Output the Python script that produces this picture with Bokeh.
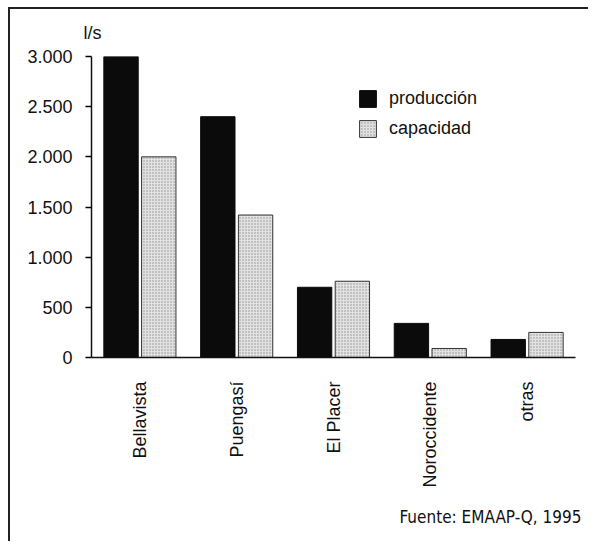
from bokeh.plotting import figure
from bokeh.models import (FactorRange, FixedTicker, Legend, LegendItem, Title,
                          ColumnDataSource)
from bokeh.transform import dodge
from bokeh.embed import file_html
from bokeh.resources import INLINE

# ---- data ----
plantas = ["Bellavista", "Puengasí", "El Placer", "Noroccidente", "otras"]
produccion = [3000, 2400, 700, 340, 180]
capacidad = [2000, 1420, 760, 90, 250]
y_ticks = [0, 500, 1000, 1500, 2000, 2500, 3000]
y_tick_labels = ["0", "500", "1.000", "1.500", "2.000", "2.500", "3.000"]
serie_labels = ["producción", "capacidad"]
unidad = "l/s"
fuente = "Fuente: EMAAP-Q, 1995"

FONT = "Liberation Sans"
NARROW = "DejaVu Sans Condensed"

src = ColumnDataSource(dict(planta=plantas, prod=produccion, cap=capacidad))

p = figure(x_range=FactorRange(*plantas, range_padding=0), y_range=(0, 3000),
           width=580, height=534, output_backend="svg", toolbar_location=None,
           min_border_left=81, min_border_right=15, min_border_top=47,
           min_border_bottom=186)
p.margin = (7, 0, 0, 8)
p.styles = {"border-top": "2px solid #222", "border-left": "2px solid #222"}
p.outline_line_color = None
p.xgrid.grid_line_color = None
p.ygrid.grid_line_color = None
p.background_fill_color = "white"
p.border_fill_color = "white"

r_prod = p.vbar(x=dodge("planta", -0.195, range=p.x_range), top="prod", width=0.355,
                source=src, fill_color="#0b0b0b", line_color="#0b0b0b")
r_cap = p.vbar(x=dodge("planta", 0.195, range=p.x_range), top="cap", width=0.355,
               source=src, fill_color="#e2e2e2", line_color="#333333", line_width=1,
               hatch_pattern="dot", hatch_color="#8f8f8f", hatch_scale=3, hatch_weight=1)

# y axis
ya = p.yaxis[0]
ya.ticker = FixedTicker(ticks=y_ticks)
ya.major_label_overrides = {t: l for t, l in zip(y_ticks, y_tick_labels)}
ya.minor_tick_line_color = None
ya.major_tick_in = 0
ya.major_tick_out = 6
ya.major_label_standoff = 13
ya.major_label_text_font = FONT
ya.major_label_text_font_size = "18px"
ya.major_label_text_color = "#111"
ya.axis_line_color = "#111"
ya.axis_line_width = 1.5
ya.major_tick_line_width = 1.5

# x axis
xa = p.xaxis[0]
xa.major_tick_line_color = None
xa.minor_tick_line_color = None
xa.major_tick_out = 0
xa.major_tick_in = 0
xa.major_label_orientation = 3.14159265 / 2
xa.major_label_standoff = 24
xa.major_label_text_font = FONT
xa.major_label_text_font_size = "18px"
xa.major_label_text_color = "#111"
xa.axis_line_color = "#111"
xa.axis_line_width = 1.5

legend = Legend(items=[LegendItem(label=serie_labels[0], renderers=[r_prod]),
                       LegendItem(label=serie_labels[1], renderers=[r_cap])],
                location=(266, 218), orientation="vertical",
                glyph_width=21, glyph_height=21, label_standoff=11,
                label_text_font=FONT, label_text_font_size="18px",
                label_text_color="#111", label_height=21, spacing=9,
                padding=0, margin=0, border_line_color=None,
                background_fill_alpha=0)
p.add_layout(legend)

p.add_layout(Title(text=unidad, align="left", offset=-8, standoff=24,
                   vertical_align="top",
                   text_font=FONT, text_font_size="18px", text_font_style="normal",
                   text_color="#111"), "above")
p.add_layout(Title(text=fuente, align="right", offset=-6, standoff=28,
                   vertical_align="bottom",
                   text_font=NARROW, text_font_size="17px",
                   text_font_style="normal", text_color="#111"), "below")

open("out.html", "w").write(file_html(p, INLINE))
